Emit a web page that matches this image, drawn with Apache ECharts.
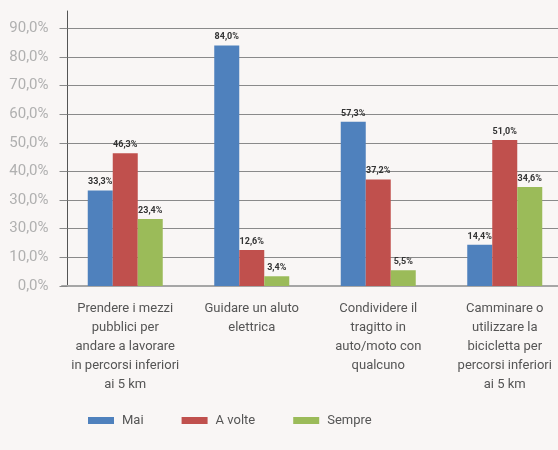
<!DOCTYPE html>
<html>
<head>
<meta charset="utf-8">
<script src="https://cdn.jsdelivr.net/npm/echarts@6/dist/echarts.min.js"></script>
<style>
  html, body { margin: 0; padding: 0; background: #f9f6f5; }
  #main { width: 558px; height: 450px; }
</style>
</head>
<body>
<div id="main"></div>
<script>
// categorie (a capo come nell'originale)
var categories = [
    'Prendere i mezzi\npubblici per\nandare a lavorare\nin percorsi inferiori\nai 5 km',
    'Guidare un aluto\nelettrica',
    'Condividere il\ntragitto in\nauto/moto con\nqualcuno',
    'Camminare o\nutilizzare la\nbicicletta per\npercorsi inferiori\nai 5 km'
];
var mai = [33.3, 84.0, 57.3, 14.4];
var aVolte = [46.3, 12.6, 37.2, 51.0];
var sempre = [23.4, 3.4, 5.5, 34.6];
// etichette asse y (così come stampate nell'originale)
var tickLabels = ['0,0%', '10,0%', '30,0%', '30,0%', '40,0%', '50,0%', '60,0%', '70,0%', '80,0%', '90,0%'];

var font = 'Roboto, sans-serif';

var echar = echarts.init(document.getElementById('main'));

var pct = function (p) {
    return p.value.toFixed(1).replace('.', ',') + '%';
};

var barLabel = {
    show: true,
    position: 'top',
    distance: 4,
    formatter: pct,
    color: '#333',
    fontFamily: font,
    fontWeight: 'bold',
    fontSize: 9
};

var option = {
    backgroundColor: '#f9f6f5',
    animation: false,
    grid: {
        left: 62,
        right: -10,
        top: 11,
        bottom: 164,
        outerBoundsMode: 'none'
    },
    legend: {
        left: 88,
        top: 414,
        padding: 0,
        icon: 'rect',
        itemWidth: 26,
        itemHeight: 7,
        itemGap: 38,
        textStyle: {
            color: '#555',
            fontFamily: font,
            fontSize: 13,
            padding: [0, 0, 0, 3]
        },
        data: ['Mai', 'A volte', 'Sempre']
    },
    xAxis: {
        type: 'category',
        data: categories,
        axisLine: { lineStyle: { color: '#a6a6a6', width: 2 } },
        axisTick: { show: false },
        axisLabel: {
            interval: 0,
            margin: 13,
            color: '#555',
            fontFamily: font,
            fontSize: 13,
            lineHeight: 19
        }
    },
    yAxis: {
        type: 'value',
        min: 0,
        max: 96,
        interval: 10,
        offset: -5.5,
        axisLine: { show: true, lineStyle: { color: '#555', width: 1 } },
        axisTick: { show: true, inside: false, length: 8, lineStyle: { color: '#8a8a8a' } },
        splitLine: {
            show: true,
            showMaxLine: false,
            lineStyle: { color: '#8a8a8a', width: 1 }
        },
        axisLabel: {
            margin: 19,
            showMaxLabel: false,
            color: '#b0b0b0',
            fontFamily: font,
            fontSize: 15,
            formatter: function (v) {
                return v % 10 === 0 ? tickLabels[v / 10] : '';
            }
        }
    },
    series: [
        {
            name: 'Mai',
            type: 'bar',
            barWidth: 25,
            barGap: 0,
            itemStyle: { color: '#4f81bd' },
            label: barLabel,
            data: mai
        },
        {
            name: 'A volte',
            type: 'bar',
            barWidth: 25,
            barGap: 0,
            itemStyle: { color: '#c0504d' },
            label: barLabel,
            data: aVolte
        },
        {
            name: 'Sempre',
            type: 'bar',
            barWidth: 25,
            barGap: 0,
            itemStyle: { color: '#9bbb59' },
            label: barLabel,
            data: sempre
        }
    ]
};

echar.setOption(option);
</script>
</body>
</html>
